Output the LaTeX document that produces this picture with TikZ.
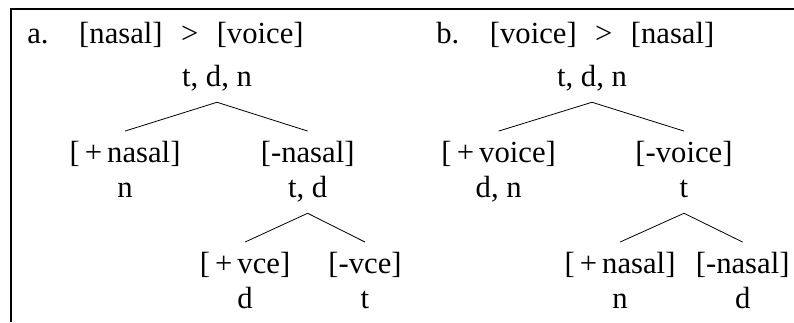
\documentclass[tikz,border=0pt]{standalone}
\usepackage{fontspec}
\setmainfont{Liberation Serif}
\usetikzlibrary{positioning}

\begin{document}
\begin{tikzpicture}[x=0.75pt,y=-0.75pt,on grid,
	every node/.style={font=\fontsize{23}{26}\selectfont,inner sep=0pt},
	seg/.style={text height=12pt,text depth=12pt},
	feat/.style={text height=23pt,text depth=23pt},
	branch/.style={line width=0.6pt}]
	\useasboundingbox (0,0) rectangle (794,322);
	\draw[line width=1pt] (794,9) -| (11,322);

	% a. nasal before voice
	\node[anchor=base west] (titleA) at (27,43) {a.\quad[nasal]\hspace{.6em}>\hspace{.6em}[voice]};
	\node[seg] (rootA) at (217,86) {t, d, n};
	\node[feat] (plusA) [below left=57pt and 69pt of rootA] {[\,+\,nasal]};
	\node[feat] (minusA) [below right=57pt and 68pt of rootA] {[-nasal]};
	\node[seg] (nA) [below=26.25pt of plusA] {n};
	\node[seg] (tdA) [below=26.25pt of minusA] {t, d};
	\node[feat] (plusvA) [below left=57pt and 47pt of tdA] {[\,+\,vce]};
	\node[feat] (minusvA) [below right=57pt and 43pt of tdA] {[-vce]};
	\node[seg] (dA) [below=26.25pt of plusvA] {d};
	\node[seg] (tA) [below=26.25pt of minusvA] {t};
	\path[branch]
		(rootA.south) edge (plusA.north)
		(rootA.south) edge (minusA.north)
		(tdA.south) edge (plusvA.north)
		(tdA.south) edge (minusvA.north);

	% b. voice before nasal
	\node[anchor=base west] (titleB) at (436,43) {b.\quad[voice]\hspace{.6em}>\hspace{.6em}[nasal]};
	\node[seg] (rootB) at (592,86) {t, d, n};
	\node[feat] (plusB) [below left=57pt and 70pt of rootB] {[\,+\,voice]};
	\node[feat] (minusB) [below right=57pt and 69pt of rootB] {[-voice]};
	\node[seg] (dnB) [below=26.25pt of plusB] {d, n};
	\node[seg] (tB) [below=26.25pt of minusB] {t};
	\node[feat] (plusnB) [below left=57pt and 48pt of tB] {[\,+\,nasal]};
	\node[feat] (minusnB) [below right=57pt and 44pt of tB] {[-nasal]};
	\node[seg] (nB) [below=26.25pt of plusnB] {n};
	\node[seg] (dB) [below=26.25pt of minusnB] {d};
	\path[branch]
		(rootB.south) edge (plusB.north)
		(rootB.south) edge (minusB.north)
		(tB.south) edge (plusnB.north)
		(tB.south) edge (minusnB.north);
\end{tikzpicture}
\end{document}
